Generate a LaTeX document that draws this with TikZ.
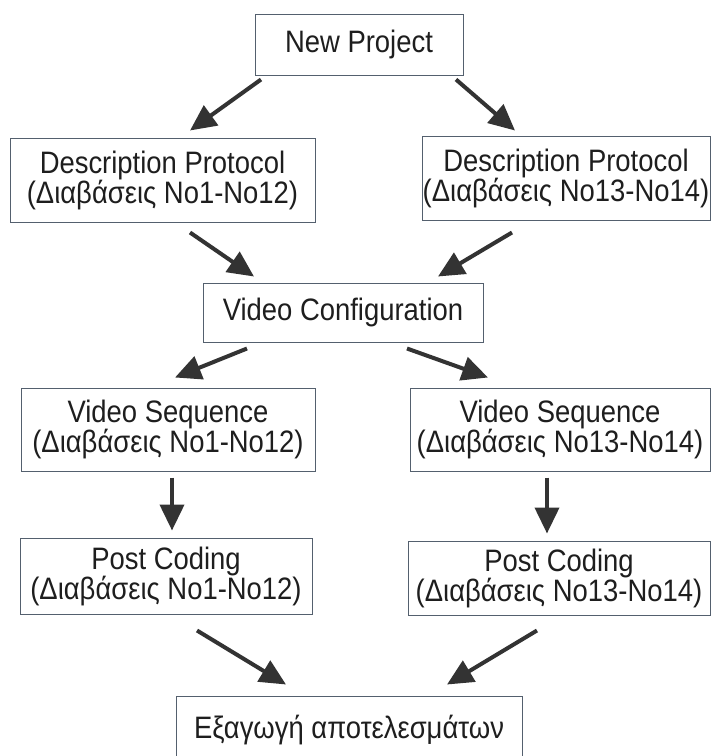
\documentclass[tikz,border=0pt]{standalone}
\usepackage{fontspec}
\setmainfont{Liberation Sans}[FakeStretch=0.885]
\usepackage{tikz}
\usetikzlibrary{arrows.meta, calc}
\definecolor{boxline}{RGB}{84,96,110}
\definecolor{arrowgray}{RGB}{51,51,51}
\definecolor{textgray}{RGB}{30,30,30}

\begin{document}
\begin{tikzpicture}[x=1pt, y=-1pt,
        stage/.style={draw=boxline, line width=1pt, fill=white, align=center, inner sep=0pt, text=textgray, font=\fontsize{31}{30}\selectfont},
        flow/.style={arrowgray, line width=4pt, -{Triangle[length=26pt, width=24pt]}}]
        \useasboundingbox (0,0) rectangle (711,756);
        \clip (0,0) rectangle (711,756);
        \fill[white] (0,0) rectangle (711,756);

        % Boxes
        \node[stage, minimum width=208pt, minimum height=61pt] (proj) at (359,44.5) {New Project};
        \node[stage, minimum width=305pt, minimum height=84pt] (descL) at (162.5,180) {Description Protocol\\(Διαβάσεις No1-No12)};
        \node[stage, minimum width=288pt, minimum height=84pt] (descR) at (566,178) {Description Protocol\\(Διαβάσεις No13-No14)};
        \node[stage, minimum width=280pt, minimum height=59pt] (conf) at (343,312.5) {Video Configuration};
        \node[stage, minimum width=294pt, minimum height=83pt] (seqL) at (168,429.5) {Video Sequence\\(Διαβάσεις No1-No12)};
        \node[stage, minimum width=300pt, minimum height=83pt] (seqR) at (560,429.5) {Video Sequence\\(Διαβάσεις No13-No14)};
        \node[stage, minimum width=292pt, minimum height=76pt] (postL) at (166,576) {Post Coding\\(Διαβάσεις No1-No12)};
        \node[stage, minimum width=302pt, minimum height=74pt] (postR) at (559,578) {Post Coding\\(Διαβάσεις No13-No14)};
        \node[stage, minimum width=346pt, minimum height=68pt] (final) at (349,730) {Εξαγωγή αποτελεσμάτων};

        % Arrows
        \draw[flow] ($(proj.south)+(-98,4)$) -- ($(descL.north)+(27.5,-7)$);
        \draw[flow] ($(proj.south)+(97,4)$) -- ($(descR.north)+(-51,-5)$);
        \draw[flow] ($(descL.south)+(27.5,10)$) -- ($(conf.north)+(-89,-6)$);
        \draw[flow] ($(descR.south)+(-54,12)$) -- ($(conf.north)+(95,-6)$);
        \draw[flow] ($(conf.south)+(-96,6)$) -- ($(seqL.north)+(7,-10)$);
        \draw[flow] ($(conf.south)+(64,6)$) -- ($(seqR.north)+(-72,-10)$);
        \draw[flow] ($(seqL.south)+(4,6)$) -- ($(postL.north)+(6,-7)$);
        \draw[flow] ($(seqR.south)+(-13,6)$) -- ($(postR.north)+(-12,-7)$);
        \draw[flow] ($(postL.south)+(31,16)$) -- ($(final.north)+(-63,-11)$);
        \draw[flow] ($(postR.south)+(-22,15)$) -- ($(final.north)+(98,-11)$);
    \end{tikzpicture}
\end{document}
